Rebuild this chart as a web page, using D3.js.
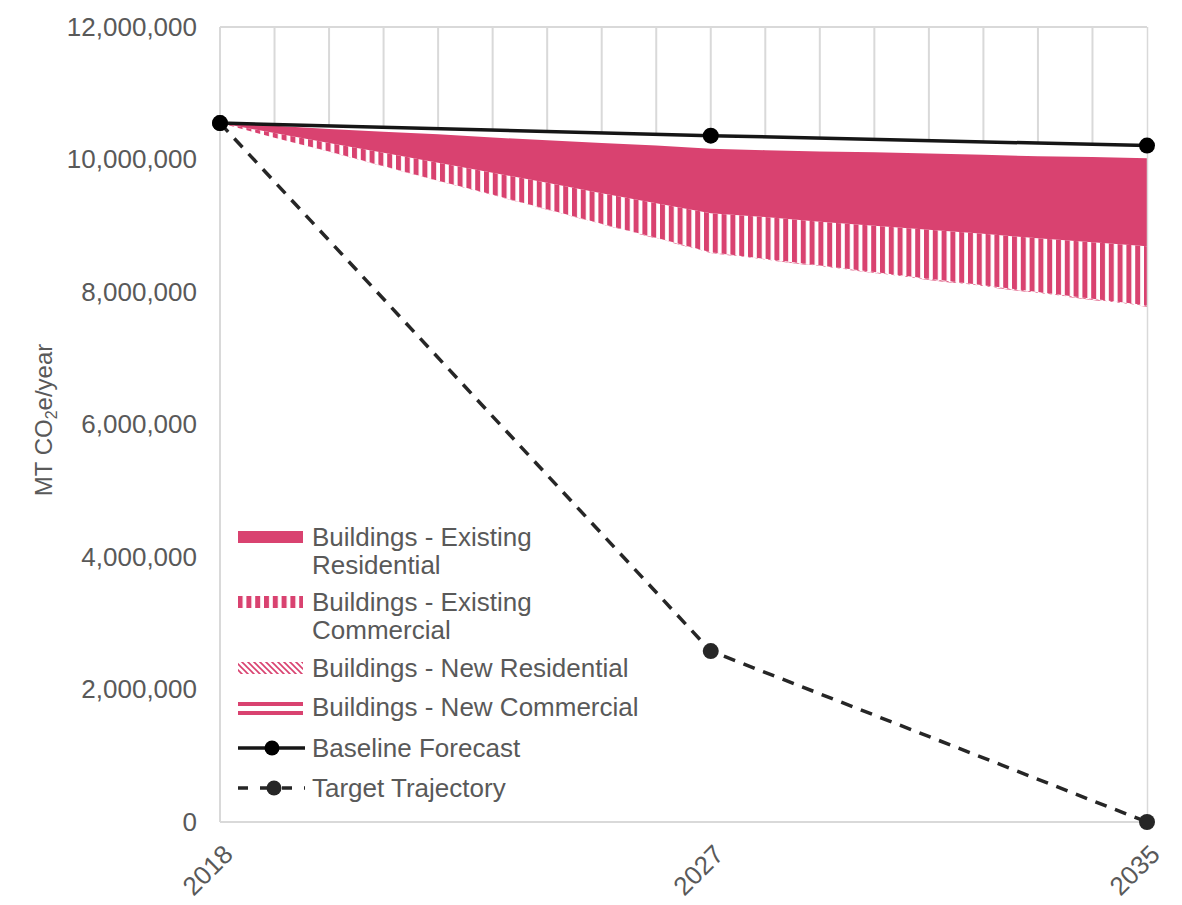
<!DOCTYPE html>
<html>
<head>
<meta charset="utf-8">
<script src="https://cdn.jsdelivr.net/npm/d3@7"></script>
<style>
  html, body { margin: 0; padding: 0; background: #ffffff; }
  svg { display: block; font-family: "Liberation Sans", Arial, sans-serif; }
</style>
</head>
<body>
<svg id="chart" width="1182" height="905"></svg>
<script>
// ---- Data (MT CO2e per year) ----
const years = [2018, 2019, 2020, 2021, 2022, 2023, 2024, 2025, 2026,
               2027, 2028, 2029, 2030, 2031, 2032, 2033, 2034, 2035];

// Emissions left after building measures (unfilled base of the stack)
const remaining = [10550000, 10328000, 10117000, 9896000, 9674000, 9463000, 9242000, 9021000, 8809000,
                   8588000, 8487000, 8386000, 8285000, 8183000, 8083000, 7981000, 7880000, 7779000];
const newCommercial = [0, 600, 1100, 1700, 2200, 2800, 3300, 3900, 4400,
                       5000, 5400, 5900, 6300, 6800, 7200, 7700, 8100, 8600];
const newResidential = [0, 1000, 2000, 2500, 3500, 4500, 5000, 6000, 7000,
                        7500, 8000, 8500, 9500, 10000, 10500, 11000, 11500, 12000];
const existingCommercial = [0, 70000, 130000, 200000, 270000, 330000, 400000, 460000, 520000,
                            590000, 630000, 660000, 700000, 740000, 780000, 810000, 850000, 890000];
const existingResidential = [0, 110000, 210000, 320000, 430000, 530000, 640000, 760000, 870000,
                             970000, 1010000, 1060000, 1110000, 1150000, 1190000, 1240000, 1290000, 1330000];

const milestoneYears = [2018, 2027, 2035];
const baselineForecast = [10550000, 10360000, 10210000];
const targetTrajectory = [10550000, 2580000, 0];

const yTickValues = [0, 2000000, 4000000, 6000000, 8000000, 10000000, 12000000];
const xTickYears = [2018, 2027, 2035];

const seriesKeys = ["remaining", "newCommercial", "newResidential", "existingCommercial", "existingResidential"];
const legendItems = [
  { key: "existingResidential", lines: ["Buildings - Existing", "Residential"] },
  { key: "existingCommercial", lines: ["Buildings - Existing", "Commercial"] },
  { key: "newResidential", lines: ["Buildings - New Residential"] },
  { key: "newCommercial", lines: ["Buildings - New Commercial"] },
  { key: "baseline", lines: ["Baseline Forecast"] },
  { key: "target", lines: ["Target Trajectory"] }
];

// ---- Styling ----
const PINK = "#d94270";
const TEXT = "#595959";
const GRID = "#d9d9d9";
const LINE = "#161616";
const TICK_FONT = 26;

const svg = d3.select("#chart");
const plot = { left: 220, right: 1147, top: 27, bottom: 822 };

const x = d3.scaleLinear().domain([2018, 2035]).range([plot.left, plot.right]);
const y = d3.scaleLinear().domain([0, 12000000]).range([plot.bottom, plot.top]);

// ---- Fill patterns ----
const defs = svg.append("defs");

const vStripe = defs.append("pattern")
  .attr("id", "vstripe").attr("patternUnits", "userSpaceOnUse")
  .attr("width", 8.8).attr("height", 10);
vStripe.append("rect").attr("width", 8.8).attr("height", 10).attr("fill", "#fff");
vStripe.append("rect").attr("x", 0).attr("width", 5).attr("height", 10).attr("fill", PINK);

const hatch = defs.append("pattern")
  .attr("id", "hatch").attr("patternUnits", "userSpaceOnUse")
  .attr("width", 6).attr("height", 6);
hatch.append("rect").attr("width", 6).attr("height", 6).attr("fill", "#fff");
hatch.append("path").attr("d", "M-1,-1 L7,7 M-1,5 L1,7 M5,-1 L7,1")
  .attr("stroke", PINK).attr("stroke-width", 1.6);

const dbl = defs.append("pattern")
  .attr("id", "dblline").attr("patternUnits", "userSpaceOnUse")
  .attr("width", 10).attr("height", 9);
dbl.append("rect").attr("width", 10).attr("height", 9).attr("fill", "#fff");
dbl.append("rect").attr("width", 10).attr("height", 4).attr("fill", PINK);

const fills = {
  remaining: "#ffffff",
  newCommercial: "url(#dblline)",
  newResidential: "url(#hatch)",
  existingCommercial: "url(#vstripe)",
  existingResidential: PINK
};

// Region above the baseline forecast, where the gridlines show
defs.append("clipPath").attr("id", "aboveBaseline")
  .append("path")
  .attr("d", () => {
    const pts = milestoneYears.map((yr, i) => [x(yr), y(baselineForecast[i])]);
    return "M" + x(2018) + "," + y(12000000) + "L" + x(2035) + "," + y(12000000) +
      "L" + pts.slice().reverse().map(p => p.join(",")).join("L") + "Z";
  });

// ---- Gridlines ----
svg.append("g").attr("clip-path", "url(#aboveBaseline)")
  .selectAll("line").data(years.slice(1, -1)).join("line")
  .attr("x1", d => x(d)).attr("x2", d => x(d))
  .attr("y1", y(12000000)).attr("y2", y(0))
  .attr("stroke", GRID).attr("stroke-width", 2);

svg.append("line")
  .attr("x1", x(2018)).attr("x2", x(2035))
  .attr("y1", y(12000000)).attr("y2", y(12000000))
  .attr("stroke", GRID).attr("stroke-width", 2);

// ---- Stacked areas ----
const table = years.map((yr, i) => ({
  year: yr,
  remaining: remaining[i],
  newCommercial: newCommercial[i],
  newResidential: newResidential[i],
  existingCommercial: existingCommercial[i],
  existingResidential: existingResidential[i]
}));
const stacked = d3.stack().keys(seriesKeys)(table);
const area = d3.area()
  .x(d => x(d.data.year))
  .y0(d => y(d[0]))
  .y1(d => y(d[1]));

svg.append("g").selectAll("path").data(stacked).join("path")
  .attr("d", area)
  .attr("fill", d => fills[d.key]);

// Outer verticals of the plot on top of the areas
svg.append("line")
  .attr("x1", x(2018)).attr("x2", x(2018))
  .attr("y1", y(12000000)).attr("y2", y(0))
  .attr("stroke", GRID).attr("stroke-width", 2);
svg.append("line")
  .attr("x1", x(2035) + 0.5).attr("x2", x(2035) + 0.5)
  .attr("y1", y(12000000)).attr("y2", y(0))
  .attr("stroke", GRID).attr("stroke-width", 1.5);

// Horizontal axis line
svg.append("line")
  .attr("x1", x(2018)).attr("x2", x(2035))
  .attr("y1", y(0)).attr("y2", y(0))
  .attr("stroke", GRID).attr("stroke-width", 2);

// ---- Axes ----
const yAxis = svg.append("g")
  .attr("transform", `translate(${plot.left},0)`)
  .call(d3.axisLeft(y).tickValues(yTickValues).tickSize(0).tickPadding(23).tickFormat(d3.format(",")));
yAxis.select(".domain").remove();
yAxis.selectAll("text")
  .attr("fill", TEXT).attr("font-size", TICK_FONT)
  .attr("font-family", "Liberation Sans, Arial, sans-serif");

const xAxis = svg.append("g")
  .attr("transform", `translate(0,${plot.bottom})`)
  .call(d3.axisBottom(x).tickValues(xTickYears).tickSize(0).tickFormat(d3.format("d")));
xAxis.select(".domain").remove();
xAxis.selectAll("text")
  .attr("fill", TEXT).attr("font-size", TICK_FONT)
  .attr("font-family", "Liberation Sans, Arial, sans-serif")
  .attr("text-anchor", "end")
  .attr("y", 0).attr("dy", 0)
  .attr("transform", "translate(14,34) rotate(-45)");

// Axis title
const yTitle = svg.append("text")
  .attr("transform", "translate(52,420) rotate(-90)")
  .attr("text-anchor", "middle")
  .attr("fill", TEXT).attr("font-size", 24);
yTitle.append("tspan").text("MT CO");
yTitle.append("tspan").text("2").attr("font-size", 16).attr("dy", 5);
yTitle.append("tspan").text("e/year").attr("dy", -5);

// ---- Lines ----
const baseLine = d3.line().x((d, i) => x(milestoneYears[i])).y(d => y(d));

svg.append("path").datum(targetTrajectory)
  .attr("d", baseLine).attr("fill", "none")
  .attr("stroke", "#262626").attr("stroke-width", 3.5)
  .attr("stroke-dasharray", "12,9");
svg.append("g").selectAll("circle").data(targetTrajectory).join("circle")
  .attr("cx", (d, i) => x(milestoneYears[i])).attr("cy", d => y(d))
  .attr("r", 8).attr("fill", "#262626");

svg.append("path").datum(baselineForecast)
  .attr("d", baseLine).attr("fill", "none")
  .attr("stroke", LINE).attr("stroke-width", 3.5);
svg.append("g").selectAll("circle").data(baselineForecast).join("circle")
  .attr("cx", (d, i) => x(milestoneYears[i])).attr("cy", d => y(d))
  .attr("r", 8).attr("fill", "#000");

// ---- Legend ----
const legend = svg.append("g");
const swX = 238, swW = 65, textX = 312, lineH = 28;
const legendRows = [546, 611, 677, 716, 757, 797]; // text baselines

legendItems.forEach((item, i) => {
  const base = legendRows[i];
  const mid = base - 9;
  const g = legend.append("g");
  if (item.key === "existingResidential" || item.key === "existingCommercial" || item.key === "newResidential") {
    g.append("rect").attr("x", swX).attr("y", mid - 6).attr("width", swW).attr("height", 12)
      .attr("fill", fills[item.key]);
  } else if (item.key === "newCommercial") {
    g.append("rect").attr("x", swX).attr("y", mid - 5).attr("width", swW).attr("height", 4).attr("fill", PINK);
    g.append("rect").attr("x", swX).attr("y", mid + 4).attr("width", swW).attr("height", 4).attr("fill", PINK);
  } else if (item.key === "baseline") {
    g.append("line").attr("x1", swX).attr("x2", swX + 67).attr("y1", mid).attr("y2", mid)
      .attr("stroke", LINE).attr("stroke-width", 3.5);
    g.append("circle").attr("cx", swX + 34).attr("cy", mid).attr("r", 7.5).attr("fill", "#000");
  } else {
    g.append("line").attr("x1", swX).attr("x2", swX + 67).attr("y1", mid).attr("y2", mid)
      .attr("stroke", "#262626").attr("stroke-width", 3.5).attr("stroke-dasharray", "10,12");
    g.append("circle").attr("cx", swX + 36).attr("cy", mid).attr("r", 7.5).attr("fill", "#262626");
  }
  const t = g.append("text").attr("x", textX).attr("y", base)
    .attr("fill", TEXT).attr("font-size", TICK_FONT);
  item.lines.forEach((ln, j) => {
    t.append("tspan").attr("x", textX).attr("dy", j === 0 ? 0 : lineH).text(ln);
  });
});
</script>
</body>
</html>
